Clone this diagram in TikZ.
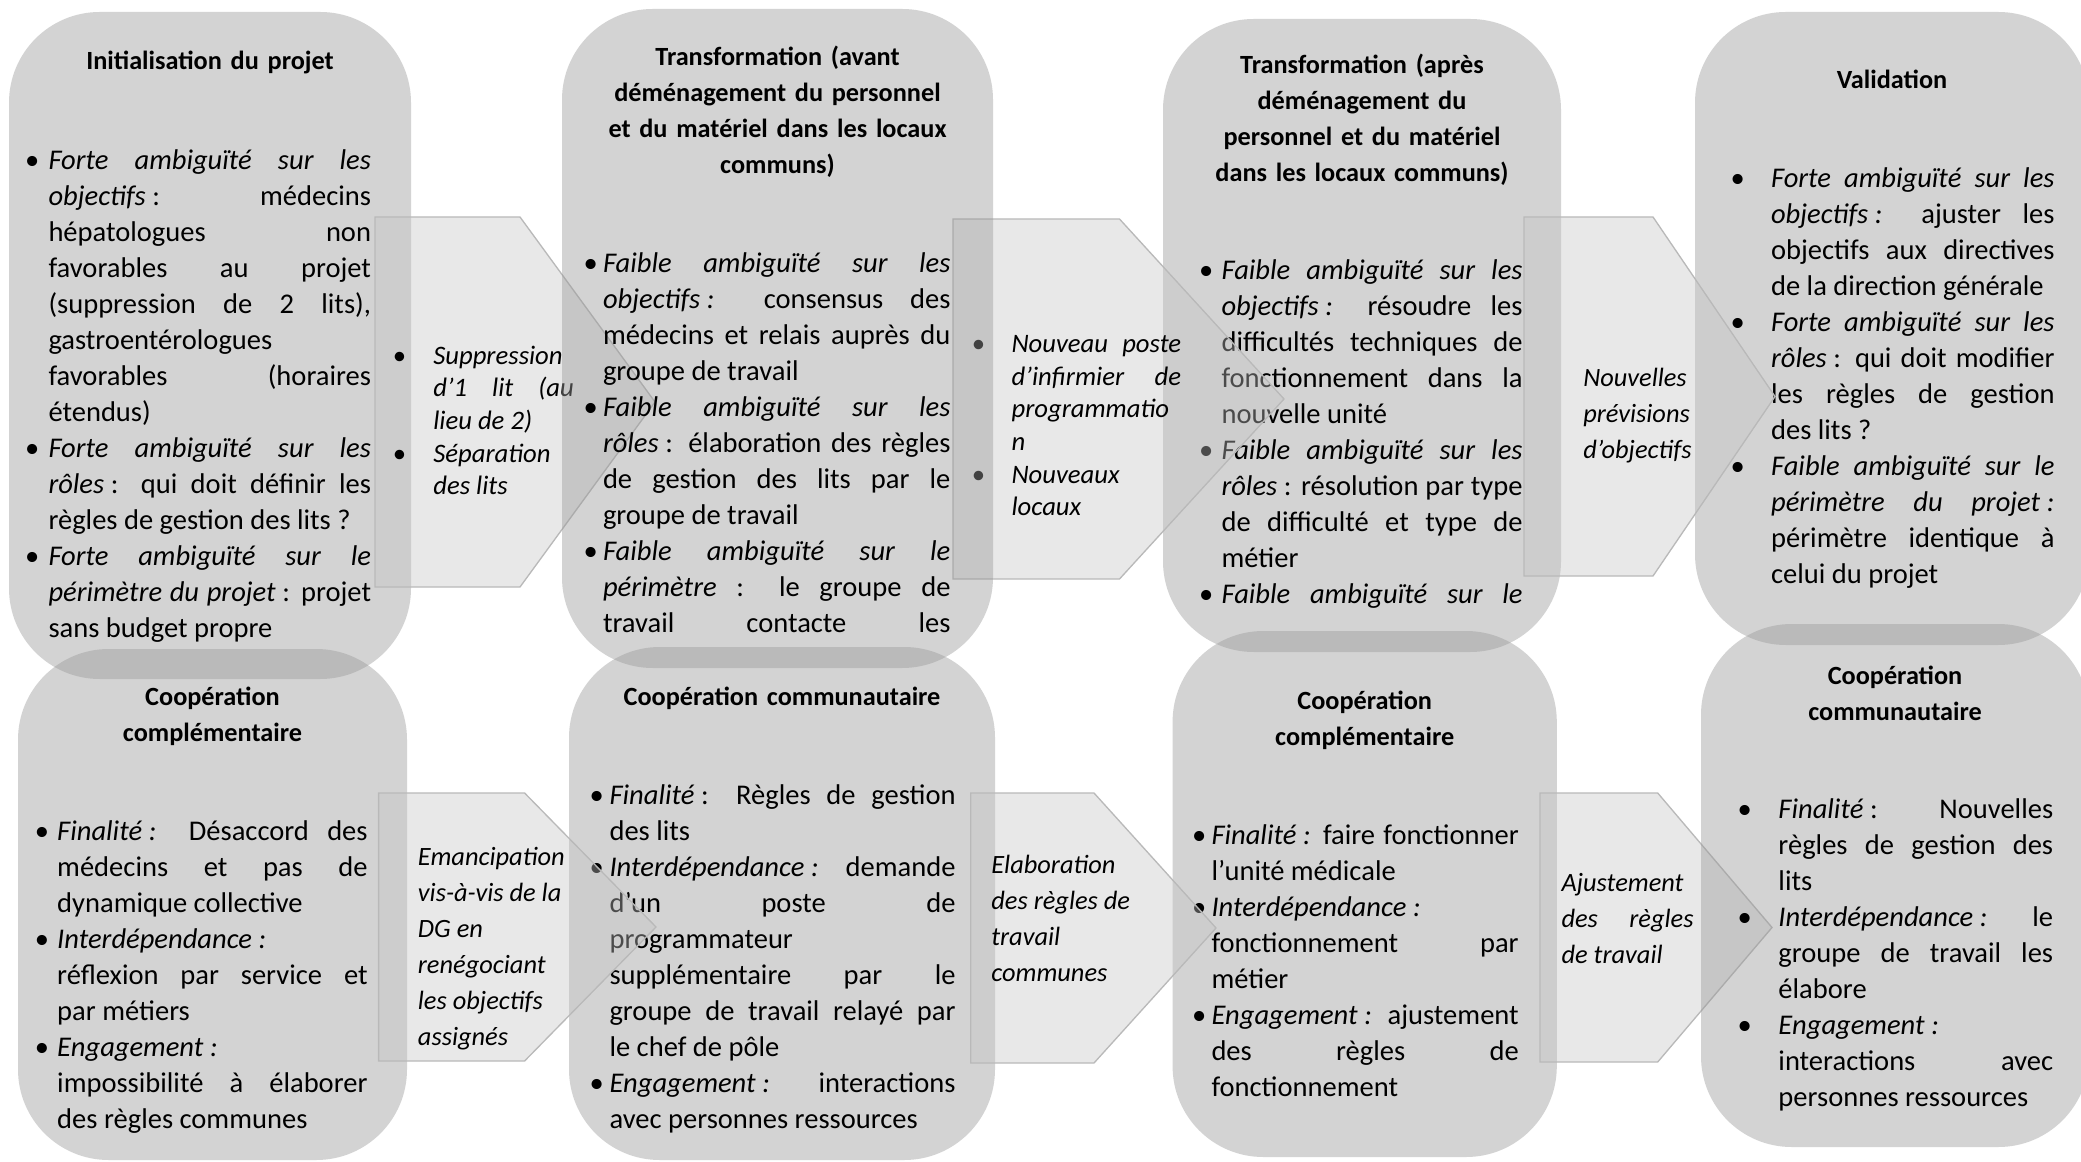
\documentclass[tikz,border=0pt]{standalone}
\usepackage{fontspec}
\setmainfont{Carlito}
\usepackage{tikz}
\definecolor{panelgray}{RGB}{153,153,153}
\definecolor{flowgray}{RGB}{195,195,195}
\definecolor{flowline}{RGB}{185,185,185}
\newlength{\hng}
\newcommand{\just}{\rightskip=0pt\relax\spaceskip=0pt\relax\xspaceskip=0pt\relax}
\newcommand{\itm}{\noindent\just\hangindent=\hng\hangafter=1\makebox[\hng][l]{\strut\textbullet}}
\newcommand{\deuxpts}{\kern2.5pt:}
\tolerance=10000
\hbadness=10000
\hyphenpenalty=10000
\exhyphenpenalty=10000

\begin{document}
\begin{tikzpicture}[x=0.375pt, y=-0.375pt,
	panel/.style={fill=panelgray, fill opacity=0.43, rounded corners=34pt, inner sep=0pt},
	flowbox/.style={fill=flowgray, fill opacity=0.39, draw=flowline, line width=0.5pt},
	headtext/.style={inner sep=0pt, anchor=north, text width=#1, align=center, font=\fontsize{9.85}{13.5}\selectfont\bfseries},
	bodytext/.style 2 args={inner sep=0pt, anchor=north west, text width=#1, font=\fontsize{10.7}{13.5}\selectfont, execute at begin node={\setlength{\hng}{#2}}},
	notetext/.style 2 args={inner sep=0pt, anchor=north west, text width=#1, font=\fontsize{10}{12.26}\selectfont\itshape, execute at begin node={\setlength{\hng}{#2}}},
	flowtext/.style={inner sep=0pt, anchor=north west, align=left, font=\fontsize{9.9}{13.5}\selectfont\itshape},
	flowpar/.style={inner sep=0pt, anchor=north west, text width=#1, font=\fontsize{9.9}{13.5}\selectfont\itshape}]
	\useasboundingbox (0,0) rectangle (2081,1162);
	
	% haut
	\node[panel, minimum width=150.75pt, minimum height=250.125pt] (init) at (210,345.5) {};
	\node[headtext=140pt] (init-head) at (210,44) {\strut Initialisation du projet};
	\node[bodytext={129.75pt}{8.8pt}] (init-list) at (24.5,143.3) {%
		\itm \textit{Forte ambiguïté sur les}\linebreak
		\textit{objectifs}\deuxpts{} médecins\linebreak
		hépatologues non\linebreak
		favorables au projet\linebreak
		(suppression de 2 lits),\linebreak
		gastroentérologues\linebreak
		favorables (horaires\linebreak
		étendus)\par
		\itm \textit{Forte ambiguïté sur les}\linebreak
		\textit{rôles}\deuxpts{} qui doit définir les\linebreak
		règles de gestion des lits~?\par
		\itm \textit{Forte ambiguïté sur le}\linebreak
		\textit{périmètre du projet}\deuxpts{} projet\linebreak
		sans budget propre\par};
	
	\node[panel, minimum width=149.25pt, minimum height=237.375pt] (apres) at (1362,335.5) {};
	\node[headtext=140pt] (apres-head) at (1362,48) {\strut Transformation (après\\ déménagement du\\ personnel et du matériel\\ dans les locaux communs)};
	\node[bodytext={121.3pt}{8.4pt}] (apres-list) at (1198.6,253.8) {%
		\itm \textit{Faible ambiguïté sur les}\linebreak
		\textit{objectifs\deuxpts} résoudre les\linebreak
		difficultés techniques de\linebreak
		fonctionnement dans la\linebreak
		nouvelle unité\par
		\itm \textit{Faible ambiguïté sur les}\linebreak
		\textit{rôles}\deuxpts{} résolution par type\linebreak
		de difficulté et type de\linebreak
		métier\par
		\itm \textit{Faible ambiguïté sur le}\linebreak\par};
	
	\node[panel, minimum width=147.75pt, minimum height=237.375pt] (valid) at (1892,328.5) {};
	\node[headtext=140pt] (valid-head) at (1892,63) {\strut Validation};
	\node[bodytext={121.5pt}{15.2pt}] (valid-list) at (1730,161.3) {%
		\itm \textit{Forte ambiguïté sur les}\linebreak
		\textit{objectifs\deuxpts} ajuster les\linebreak
		objectifs aux directives\linebreak
		de la direction générale\par
		\itm \textit{Forte ambiguïté sur les}\linebreak
		\textit{rôles}\deuxpts{} qui doit modifier\linebreak
		les règles de gestion\linebreak
		des lits~?\par
		\itm \textit{Faible ambiguïté sur le}\linebreak
		\textit{périmètre du projet\deuxpts}\linebreak
		périmètre identique à\linebreak
		celui du projet\par};
	
	\draw[flowbox] (375,217) -- (520,217) -- (655,402) -- (520,587) -- (375,587) -- cycle;
	\node[notetext={68pt}{15.3pt}] (supp) at (392,340.8) {%
		\itm Suppression\linebreak
		d’1 lit (au\linebreak
		lieu de 2)\par
		\itm Séparation\linebreak
		des lits\par};
	\draw[flowbox] (953,219) -- (1119.5,219) -- (1284,399) -- (1119.5,579) -- (953,579) -- cycle;
	\node[notetext={78.6pt}{15pt}] (poste) at (971,329.1) {%
		\itm Nouveau poste\linebreak
		d’infirmier de\linebreak
		programmatio\linebreak
		n\par
		\itm Nouveaux\linebreak
		locaux\par};
	\draw[flowbox] (1524,217) -- (1653,217) -- (1775,396.5) -- (1653,576) -- (1524,576) -- cycle;
	\node[flowtext] (prev) at (1582.7,360.6) {\strut Nouvelles\\ prévisions\\ d’objectifs};
	
	\node[panel, minimum width=161.625pt, minimum height=247.125pt] (avant) at (777.5,338.5) {};
	\node[headtext=150pt] (avant-head) at (777.5,40) {\strut Transformation (avant\\ déménagement du personnel\\ et du matériel dans les locaux\\ communs)};
	\node[bodytext={137.6pt}{7.3pt}] (avant-list) at (583,246.3) {%
		\itm \textit{Faible ambiguïté sur les}\linebreak
		\textit{objectifs\deuxpts} consensus des\linebreak
		médecins et relais auprès du\linebreak
		groupe de travail\par
		\itm \textit{Faible ambiguïté sur les}\linebreak
		\textit{rôles}\deuxpts{} élaboration des règles\linebreak
		de gestion des lits par le\linebreak
		groupe de travail\par
		\itm \textit{Faible ambiguïté sur le}\linebreak
		\textit{périmètre} : le groupe de\linebreak
		travail contacte les\linebreak\par};
	
	% bas
	\node[panel, minimum width=145.875pt, minimum height=191.625pt] (compA) at (212.5,904.5) {};
	\node[headtext=135pt] (compA-head) at (212.5,680) {\strut Coopération\\ complémentaire};
	\node[bodytext={124.8pt}{8.4pt}] (compA-list) at (34.3,815) {%
		\itm \textit{Finalité\deuxpts} Désaccord des\linebreak
		médecins et pas de\linebreak
		dynamique collective\par
		\itm \textit{Interdépendance\deuxpts}\linebreak
		réflexion par service et\linebreak
		par métiers\par
		\itm \textit{Engagement\deuxpts}\linebreak
		impossibilité à élaborer\linebreak
		des règles communes\par};
	
	\node[panel, minimum width=159.75pt, minimum height=192.375pt] (commA) at (782,903.5) {};
	\node[headtext=150pt] (commA-head) at (782,680) {\strut Coopération communautaire};
	\node[bodytext={137.25pt}{7.5pt}] (commA-list) at (589,779) {%
		\itm \textit{Finalité}\deuxpts{} Règles de gestion\linebreak
		des lits\par
		\itm \textit{Interdépendance\deuxpts} demande\linebreak
		d’un poste de\linebreak
		programmateur\linebreak
		supplémentaire par le\linebreak
		groupe de travail relayé par\linebreak
		le chef de pôle\par
		\itm \textit{Engagement\deuxpts} interactions\linebreak
		avec personnes ressources\par};
	
	\node[panel, minimum width=144.075pt, minimum height=197.25pt] (compB) at (1364.7,894) {};
	\node[headtext=135pt] (compB-head) at (1364.7,684) {\strut Coopération\\ complémentaire};
	\node[bodytext={122.5pt}{7.3pt}] (compB-list) at (1191.5,818.3) {%
		\itm \textit{Finalité\deuxpts} faire fonctionner\linebreak
		l’unité médicale\par
		\itm \textit{Interdépendance\deuxpts}\linebreak
		fonctionnement par\linebreak
		métier\par
		\itm \textit{Engagement\deuxpts} ajustement\linebreak
		des règles de\linebreak
		fonctionnement\par};
	
	\draw[flowbox] (378.6,793) -- (524.6,793) -- (656,927) -- (524.6,1061) -- (378.6,1061) -- cycle;
	\node[flowtext] (eman) at (417.4,839.6) {\strut Emancipation\\ vis-à-vis de la\\ DG en\\ renégociant\\ les objectifs\\ assignés};
	\draw[flowbox] (970.7,793) -- (1094,793) -- (1216,928) -- (1094,1063) -- (970.7,1063) -- cycle;
	\node[flowtext] (elab) at (990.8,848) {\strut Elaboration\\ des règles de\\ travail\\ communes};
	\draw[flowbox] (1540,793) -- (1657.7,793) -- (1772,927.5) -- (1657.7,1062) -- (1540,1062) -- cycle;
	\node[flowpar=49.5pt] (ajust) at (1561,866) {\just\strut Ajustement\linebreak
		des règles\linebreak
		de travail\par};
	
	\node[panel, minimum width=145.5pt, minimum height=196.125pt] (commB) at (1895,885.5) {};
	\node[headtext=135pt] (commB-head) at (1895,658.5) {\strut Coopération\\ communautaire};
	\node[bodytext={118.35pt}{15.35pt}] (commB-list) at (1737,792.3) {%
		\itm \textit{Finalité}\deuxpts{} Nouvelles\linebreak
		règles de gestion des\linebreak
		lits\par
		\itm \textit{Interdépendance\deuxpts} le\linebreak
		groupe de travail les\linebreak
		élabore\par
		\itm \textit{Engagement\deuxpts}\linebreak
		interactions avec\linebreak
		personnes ressources\par};
\end{tikzpicture}
\end{document}
